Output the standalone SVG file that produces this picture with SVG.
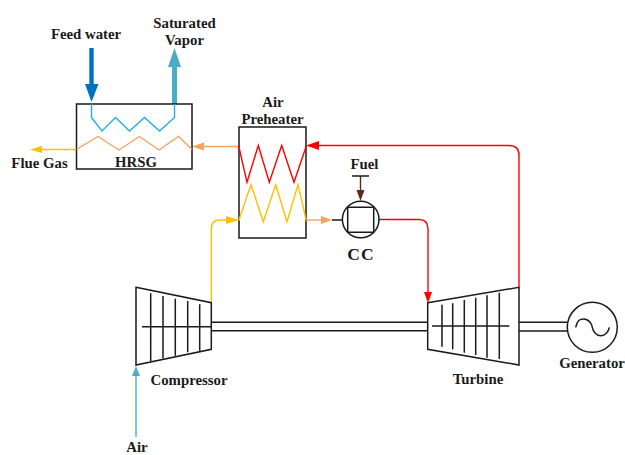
<svg xmlns="http://www.w3.org/2000/svg" width="625" height="455" viewBox="0 0 625 455">
<style>
text{font-family:"Liberation Serif","Times New Roman",serif;font-weight:bold;font-size:14.800px;fill:#1a1a1a;text-anchor:middle}
.b{fill:none;stroke:#1a1a1a;stroke-width:1.500}
.w{fill:#fff;stroke:#1a1a1a;stroke-width:1.500}
.c{fill:none;stroke-width:1.400;stroke-linejoin:miter}
.red{stroke:#ff0000}.yel{stroke:#ffc000}.ora{stroke:#f4a460}.blu{stroke:#1fb0e8}
</style>
<rect width="625" height="455" fill="#fff"/>
<g id="connectors">
<path class="c ora" d="M239 146.500H202"/><path fill="#f4a460" d="M192 146.500L204 142.500V150.500Z"/>
<path class="c yel" d="M76.500 149.500H41"/><path fill="#ffc000" d="M30 149.500L42 146V153Z"/>
<path class="c red" d="M519 287V155Q519 145.500 509 145.500H316"/><path fill="#ff0000" d="M306 145.500L319 141V150Z"/>
<path class="c yel" d="M211.300 302V229Q211.300 220 220 220H230"/><path fill="#ffc000" d="M239 220L226 216V224Z"/>
<path class="c ora" d="M306 220H324"/><path fill="#f4a460" d="M332 220L321 216V224Z"/>
<path class="b" d="M332 220H342"/>
<path stroke="#c00000" stroke-width="1.400" fill="none" d="M379 219.500H388"/>
<path class="c red" d="M388 219.500H419Q428 219.500 428 229V294"/><path fill="#ff0000" d="M428 303L424 292H432Z"/>
<path d="M360.500 176V194" stroke="#5a2a22" stroke-width="1.400" fill="none"/><path fill="#5a2a22" d="M360.500 201L356.500 190H364.500Z"/>
<path d="M136 437V372" stroke="#4bacc6" stroke-width="1.400" fill="none"/><path fill="#4bacc6" d="M136 366L132 376H140Z"/>
<path fill="#0070c0" d="M89.300 48H93.700V84H98.500L91.500 102L85 84H89.300Z"/>
<path fill="#4bacc6" d="M172 104V67H168L174.500 48L181 67H177V104Z"/>
<path class="b" d="M211 322.300H428M211 330.700H428M519 322.300H567M519 331H567"/>
<path class="b" d="M352 176H369"/>
</g>
<g id="hrsg">
<rect class="b" x="76.500" y="104" width="115.500" height="65"/>
<path class="c blu" d="M91.500 104V117.500L102 131L115.500 117.500L129.500 131L144.500 117.500L159.500 131L174.500 117.500V104"/>
<path class="c ora" d="M76.500 149.500L98 136.500L119 150L139.500 136.500L159 150L178.500 136.500L192 149.500"/>
<text x="136" y="167">HRSG</text>
</g>
<g id="air-preheater">
<rect class="b" x="239" y="127" width="67" height="111"/>
<path class="c red" d="M238.700 146L247 182.300L258.300 145.500L269.300 182.300L281.700 145.500L294 182.300L306.300 146"/>
<path class="c yel" d="M238.700 220.700L251 184.700L263.300 221.700L275.700 184.700L287 221.700L298 184.700L306.300 220.700"/>
<text x="273" y="107">Air</text><text x="272.500" y="124">Preheater</text>
</g>
<g id="cc">
<circle class="w" cx="360.700" cy="219.500" r="18.300"/>
<path class="b" d="M347.700 207.300H373.700M347.700 232.300H373.700M347.700 207.300V232.300M373.700 207.300V232.300"/>
<text x="361" y="260" style="font-size:17.500px;letter-spacing:1px">CC</text>
<text x="364.500" y="169">Fuel</text>
</g>
<g id="compressor">
<path class="b" d="M136 287.300L211.300 302.700V349.300L136 365ZM142 326.700H211M150.700 293.300V361M163 296V358.300M175.300 298.700V355.700M187.700 301V352.300M199.700 304.300V350.700"/>
<text x="189" y="385">Compressor</text>
</g>
<g id="turbine">
<path class="b" d="M427.700 302.700L519 287.300V365L427.700 349.300ZM432 326H509.300M442 304.700V346.700M452.700 303.300V349.300M464.300 300V352.700M475.700 297.700V355M487 295.300V357.700M499.300 292.700V359"/>
<text x="478" y="384">Turbine</text>
</g>
<g id="generator">
<circle class="b" cx="592.300" cy="327.300" r="25"/>
<path class="b" d="M575.700 327.300C577 320 580 319 583.500 319C589 319 592 324 592.300 327.300C593 331 596 335.700 601 335.700C605 335.700 608.500 332 609.300 327.300"/>
<text x="592" y="368">Generator</text>
</g>
<g id="labels">
<text x="86" y="39">Feed water</text>
<text x="184.500" y="28">Saturated</text><text x="184.500" y="45">Vapor</text>
<text x="39.500" y="168">Flue Gas</text>
<text x="137" y="451.800">Air</text>
</g>
</svg>
